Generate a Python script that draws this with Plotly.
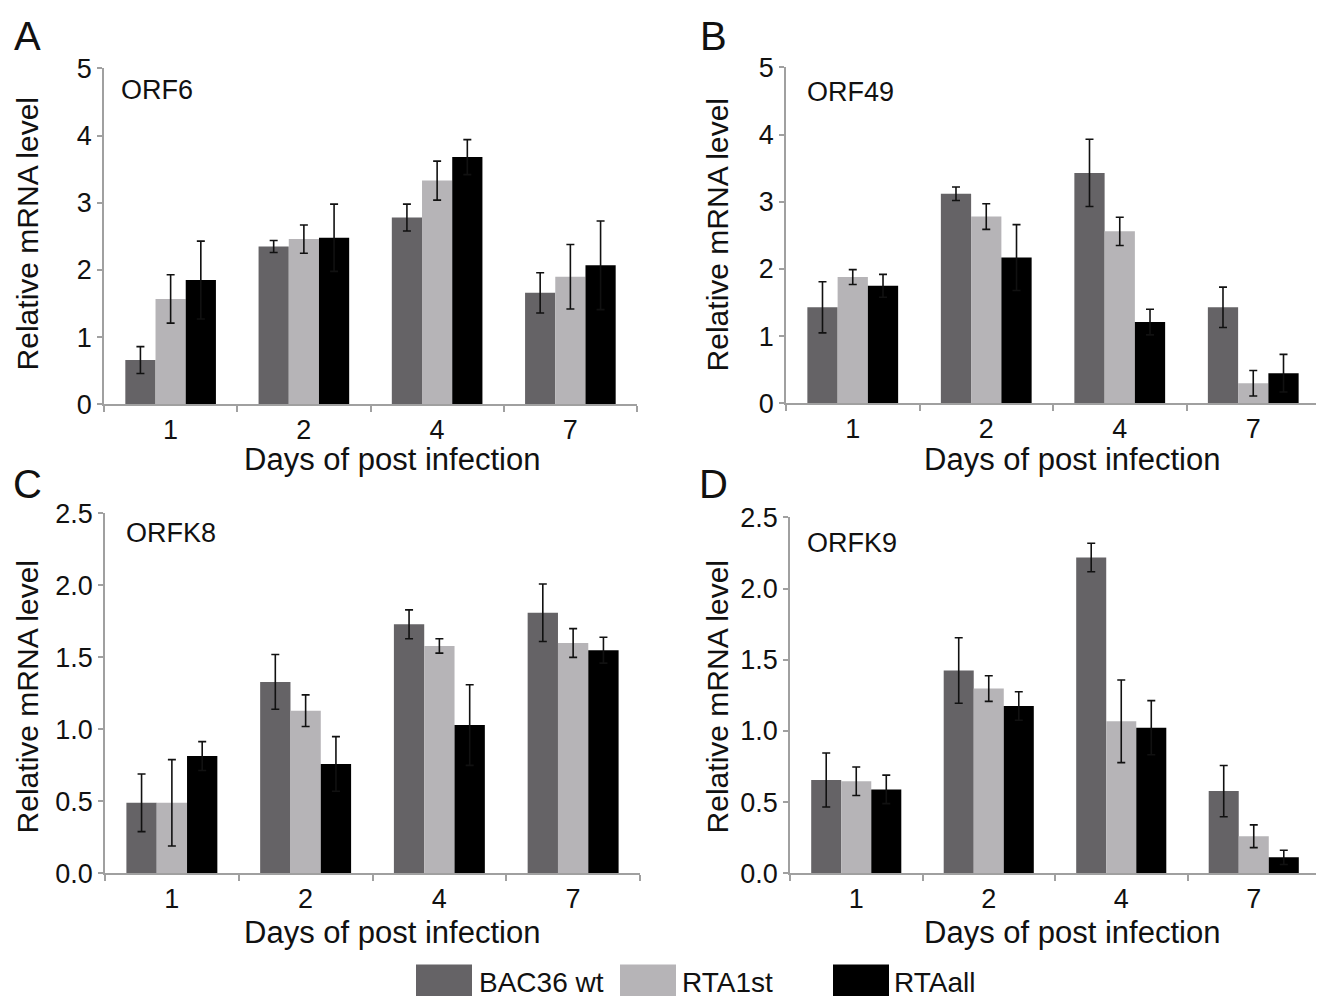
import plotly.graph_objects as go

days = ["1", "2", "4", "7"]
series_names = ["BAC36 wt", "RTA1st", "RTAall"]
colors = ["#656366", "#b6b4b7", "#000000"]

# Panel A: ORF6
orf6_vals = [[0.66, 2.35, 2.78, 1.66],
             [1.57, 2.46, 3.33, 1.90],
             [1.85, 2.48, 3.68, 2.07]]
orf6_err = [[0.20, 0.09, 0.20, 0.30],
            [0.36, 0.21, 0.29, 0.48],
            [0.58, 0.50, 0.26, 0.66]]
# Panel B: ORF49
orf49_vals = [[1.43, 3.12, 3.43, 1.43],
              [1.88, 2.78, 2.56, 0.30],
              [1.75, 2.17, 1.21, 0.45]]
orf49_err = [[0.38, 0.10, 0.50, 0.30],
             [0.11, 0.19, 0.21, 0.19],
             [0.17, 0.49, 0.19, 0.28]]
# Panel C: ORFK8
orfk8_vals = [[0.49, 1.33, 1.73, 1.81],
              [0.49, 1.13, 1.58, 1.60],
              [0.815, 0.76, 1.03, 1.55]]
orfk8_err = [[0.20, 0.19, 0.10, 0.20],
             [0.30, 0.11, 0.05, 0.10],
             [0.10, 0.19, 0.28, 0.09]]
# Panel D: ORFK9
orfk9_vals = [[0.656, 1.425, 2.218, 0.578],
              [0.647, 1.298, 1.068, 0.261],
              [0.59, 1.176, 1.023, 0.113]]
orfk9_err = [[0.19, 0.23, 0.10, 0.18],
             [0.10, 0.09, 0.29, 0.08],
             [0.10, 0.10, 0.19, 0.05]]

W, H = 1324, 1003
# measured placement of the figure in the captured page
X_OFF, X_SPAN = 8.0, 1324.0
Y_OFF, Y_SPAN = 22.6, 973.0
FONT = "Liberation Sans, Arial, sans-serif"
TXT = "#111111"

def clamp(v):
    return max(0.0, min(1.0, v))

def fx(px):
    return (px - X_OFF) / X_SPAN

def fy(py):
    return 1 - (py - Y_OFF) / Y_SPAN

panels = [
    # letter, gene, vals, err, ymax, dtick, fmt, x0, x1, ybot, ytop,
    # letter pos, gene pos, x-title pos, y-title pos
    ("A", "ORF6", orf6_vals, orf6_err, 5, 1, "d", 104, 637, 404, 68,
     (27, 36), (119, 90), (392, 457), (27, 234)),
    ("B", "ORF49", orf49_vals, orf49_err, 5, 1, "d", 786, 1320, 403, 67,
     (713, 36), (805, 92), (1072, 457), (717, 235)),
    ("C", "ORFK8", orfk8_vals, orfk8_err, 2.5, 0.5, ".1f", 105, 640, 873, 513,
     (27, 484), (124, 533), (392, 930), (27, 697)),
    ("D", "ORFK9", orfk9_vals, orfk9_err, 2.5, 0.5, ".1f", 790, 1320, 873, 517,
     (713, 484), (805, 543), (1072, 930), (717, 697)),
]

fig = go.Figure()
annotations = []
shapes = []
axis_color = "#a0a0a0"

for i, (letter, gene, vals, errs, ymax, dtick, fmt, x0, x1, yb, yt,
        lpos, gpos, xtpos, ytpos) in enumerate(panels):
    n = i + 1
    xa = "x" if n == 1 else f"x{n}"
    ya = "y" if n == 1 else f"y{n}"
    for s in range(3):
        fig.add_trace(go.Bar(
            x=days, y=vals[s], name=series_names[s],
            marker=dict(color=colors[s], line=dict(width=0)),
            error_y=dict(type="data", array=errs[s], visible=True,
                         color="#111111", thickness=1.6, width=4),
            xaxis=xa, yaxis=ya, showlegend=False,
        ))
    xkey = "xaxis" if n == 1 else f"xaxis{n}"
    ykey = "yaxis" if n == 1 else f"yaxis{n}"
    fig.update_layout(**{
        xkey: dict(domain=[clamp(fx(x0)), clamp(fx(x1))], anchor=ya, type="category",
                   showline=True, linecolor=axis_color, linewidth=1.5,
                   ticks="outside", tickson="boundaries", ticklen=6,
                   tickcolor=axis_color, tickwidth=1.5,
                   tickfont=dict(family=FONT, size=27, color=TXT),
                   showgrid=False, zeroline=False, fixedrange=True),
        ykey: dict(domain=[clamp(fy(yb)), clamp(fy(yt))], anchor=xa, range=[0, ymax],
                   dtick=dtick, tickformat=fmt,
                   showline=True, linecolor=axis_color, linewidth=1.5,
                   ticks="outside", ticklen=5, tickcolor=axis_color, tickwidth=1.5,
                   tickfont=dict(family=FONT, size=27, color=TXT),
                   showgrid=False, zeroline=False, fixedrange=True),
    })
    annotations.append(dict(text=letter, x=fx(lpos[0]), y=fy(lpos[1]), xref="paper", yref="paper",
                            showarrow=False, xanchor="center", yanchor="middle",
                            font=dict(family=FONT, size=40, color=TXT)))
    annotations.append(dict(text=gene, x=fx(gpos[0]), y=fy(gpos[1]), xref="paper", yref="paper",
                            showarrow=False, xanchor="left", yanchor="middle",
                            font=dict(family=FONT, size=27, color=TXT)))
    annotations.append(dict(text="Days of post infection", x=fx(xtpos[0]), y=fy(xtpos[1] + 2),
                            xref="paper", yref="paper",
                            showarrow=False, xanchor="center", yanchor="middle",
                            font=dict(family=FONT, size=31, color=TXT)))
    annotations.append(dict(text="Relative mRNA level", x=fx(ytpos[0]), y=fy(ytpos[1]),
                            xref="paper", yref="paper", textangle=-90,
                            showarrow=False, xanchor="center", yanchor="middle",
                            font=dict(family=FONT, size=30, color=TXT)))

# custom legend with large swatches
legend_pos = [(416, 477), (620, 680), (833, 892)]
for s, (sx, tx) in enumerate(legend_pos):
    shapes.append(dict(type="rect", xref="paper", yref="paper",
                       x0=fx(sx), x1=fx(sx + 56), y0=0, y1=fy(964),
                       fillcolor=colors[s], line=dict(width=0)))
    annotations.append(dict(text=series_names[s], x=fx(tx), y=fy(982), xref="paper", yref="paper",
                            showarrow=False, xanchor="left", yanchor="middle",
                            font=dict(family=FONT, size=28, color=TXT)))

fig.update_layout(
    width=W, height=H,
    margin=dict(l=0, r=0, t=0, b=0),
    paper_bgcolor="white", plot_bgcolor="white",
    barmode="group", bargap=0.32, bargroupgap=0,
    annotations=annotations, shapes=shapes,
    showlegend=False,
)

fig.write_html("out.html")
